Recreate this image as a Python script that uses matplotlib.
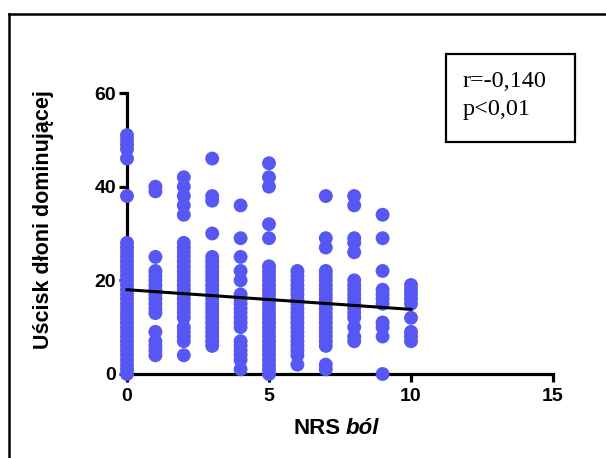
import matplotlib
matplotlib.use("Agg")
import matplotlib.pyplot as plt
from matplotlib.lines import Line2D
from matplotlib.patches import Rectangle

# Grip strength of the dominant hand (kg) at each NRS pain level
grip_nrs0 = [51, 50, 49, 48, 46, 38, 28, 27, 26, 25, 24, 23, 22, 21, 20, 19, 18, 17,
             16, 15, 14, 13, 12, 11, 10, 9, 8, 7, 6, 5, 4, 3, 2, 1, 0]
grip_nrs1 = [40, 39, 25, 22, 21, 20, 19, 18, 17, 16, 15, 14, 13, 9, 7, 6, 5, 4]
grip_nrs2 = [42, 40, 38, 36, 34, 28, 27, 26, 25, 24, 23, 22, 21, 20, 19, 18, 17, 16,
             15, 14, 13, 12, 10, 9, 8, 7, 4]
grip_nrs3 = [46, 38, 37, 30, 25, 24, 23, 22, 21, 20, 19, 18, 17, 16, 15, 14, 13, 12,
             11, 10, 9, 8, 7, 6]
grip_nrs4 = [36, 29, 25, 22, 20, 17, 16, 15, 14, 13, 12, 11, 10, 7, 6, 5, 4, 3, 1]
grip_nrs5 = [45, 42, 40, 32, 29, 23, 22, 21, 20, 19, 18, 17, 16, 15, 14, 13, 12, 11,
             10, 9, 8, 7, 6, 5, 4, 3, 2, 1, 0]
grip_nrs6 = [22, 21, 20, 19, 18, 17, 16, 15, 14, 13, 12, 11, 10, 9, 8, 7, 6, 5, 4, 2]
grip_nrs7 = [38, 29, 27, 22, 21, 20, 19, 18, 17, 16, 15, 14, 13, 12, 11, 10, 9, 8, 7,
             6, 2, 1]
grip_nrs8 = [38, 36, 29, 28, 26, 20, 19, 18, 17, 16, 15, 14, 13, 12, 10, 8, 7]
grip_nrs9 = [34, 29, 22, 18, 17, 16, 15, 11, 10, 8, 0]
grip_nrs10 = [19, 18, 17, 16, 15, 12, 9, 8, 7]

nrs_levels = [0, 1, 2, 3, 4, 5, 6, 7, 8, 9, 10]
grip_groups = [grip_nrs0, grip_nrs1, grip_nrs2, grip_nrs3, grip_nrs4, grip_nrs5,
               grip_nrs6, grip_nrs7, grip_nrs8, grip_nrs9, grip_nrs10]

# Linear regression line
fit_x = [0, 10]
fit_y = [18.0, 13.8]

x_ticks = [0, 5, 10, 15]
y_ticks = [0, 20, 40, 60]
stats_lines = ["r=-0,140", "p<0,01"]

W, H = 606, 458
fig = plt.figure(figsize=(W / 100, H / 100), dpi=100)
fig.patch.set_facecolor("white")

def fx(px):
    return px / W

def fy(py):
    return 1 - py / H

ax = fig.add_axes([fx(127), fy(374), fx(553) - fx(127), fy(93) - fy(374)])

xs, ys = [], []
for lvl, vals in zip(nrs_levels, grip_groups):
    xs.extend([lvl] * len(vals))
    ys.extend(vals)

ax.scatter(xs, ys, s=100, color="#5757F3", edgecolors="none", zorder=3, clip_on=False)
ax.plot(fit_x, fit_y, color="black", lw=2.2, zorder=4, clip_on=False)

ax.set_xlim(0, 15)
ax.set_ylim(0, 60)
ax.set_xticks(x_ticks)
ax.set_yticks(y_ticks)
for side in ("top", "right"):
    ax.spines[side].set_visible(False)
for side in ("left", "bottom"):
    ax.spines[side].set_linewidth(2.3)
    ax.spines[side].set_zorder(2)
ax.tick_params(axis="both", direction="out", width=2.3, length=6,
               labelsize=14)
ax.tick_params(axis="x", pad=4)
ax.tick_params(axis="y", pad=2)
for lab in ax.get_xticklabels() + ax.get_yticklabels():
    lab.set_fontfamily("Liberation Sans")
    lab.set_fontweight("bold")

# Axis titles
fig.text(fx(341), fy(434), "NRS", ha="right", va="baseline", fontsize=16,
         fontweight="bold", family="Liberation Sans")
fig.text(fx(346), fy(434), "ból", ha="left", va="baseline", fontsize=16,
         fontweight="bold", fontstyle="italic", family="Liberation Sans")
fig.text(fx(44), fy(220), "Uścisk dłoni dominującej", rotation=90, ha="center",
         va="center", fontsize=15.5, fontweight="bold", family="Liberation Sans")

# Statistics box
fig.add_artist(Rectangle((fx(446), fy(142)), fx(575) - fx(446), fy(54) - fy(142),
                         transform=fig.transFigure, fill=False, lw=1.6,
                         edgecolor="black"))
fig.text(fx(463), fy(87), stats_lines[0], ha="left", va="baseline", fontsize=17.5,
         family="Liberation Serif")
fig.text(fx(463), fy(115), stats_lines[1], ha="left", va="baseline", fontsize=17.5,
         family="Liberation Serif")

# Outer frame
fig.add_artist(Line2D([fx(9), fx(9)], [0, fy(14)], transform=fig.transFigure,
                      color="black", lw=1.8))
fig.add_artist(Line2D([fx(9), 1], [fy(14), fy(14)], transform=fig.transFigure,
                      color="black", lw=1.8))

fig.savefig("out.png", dpi=100)
